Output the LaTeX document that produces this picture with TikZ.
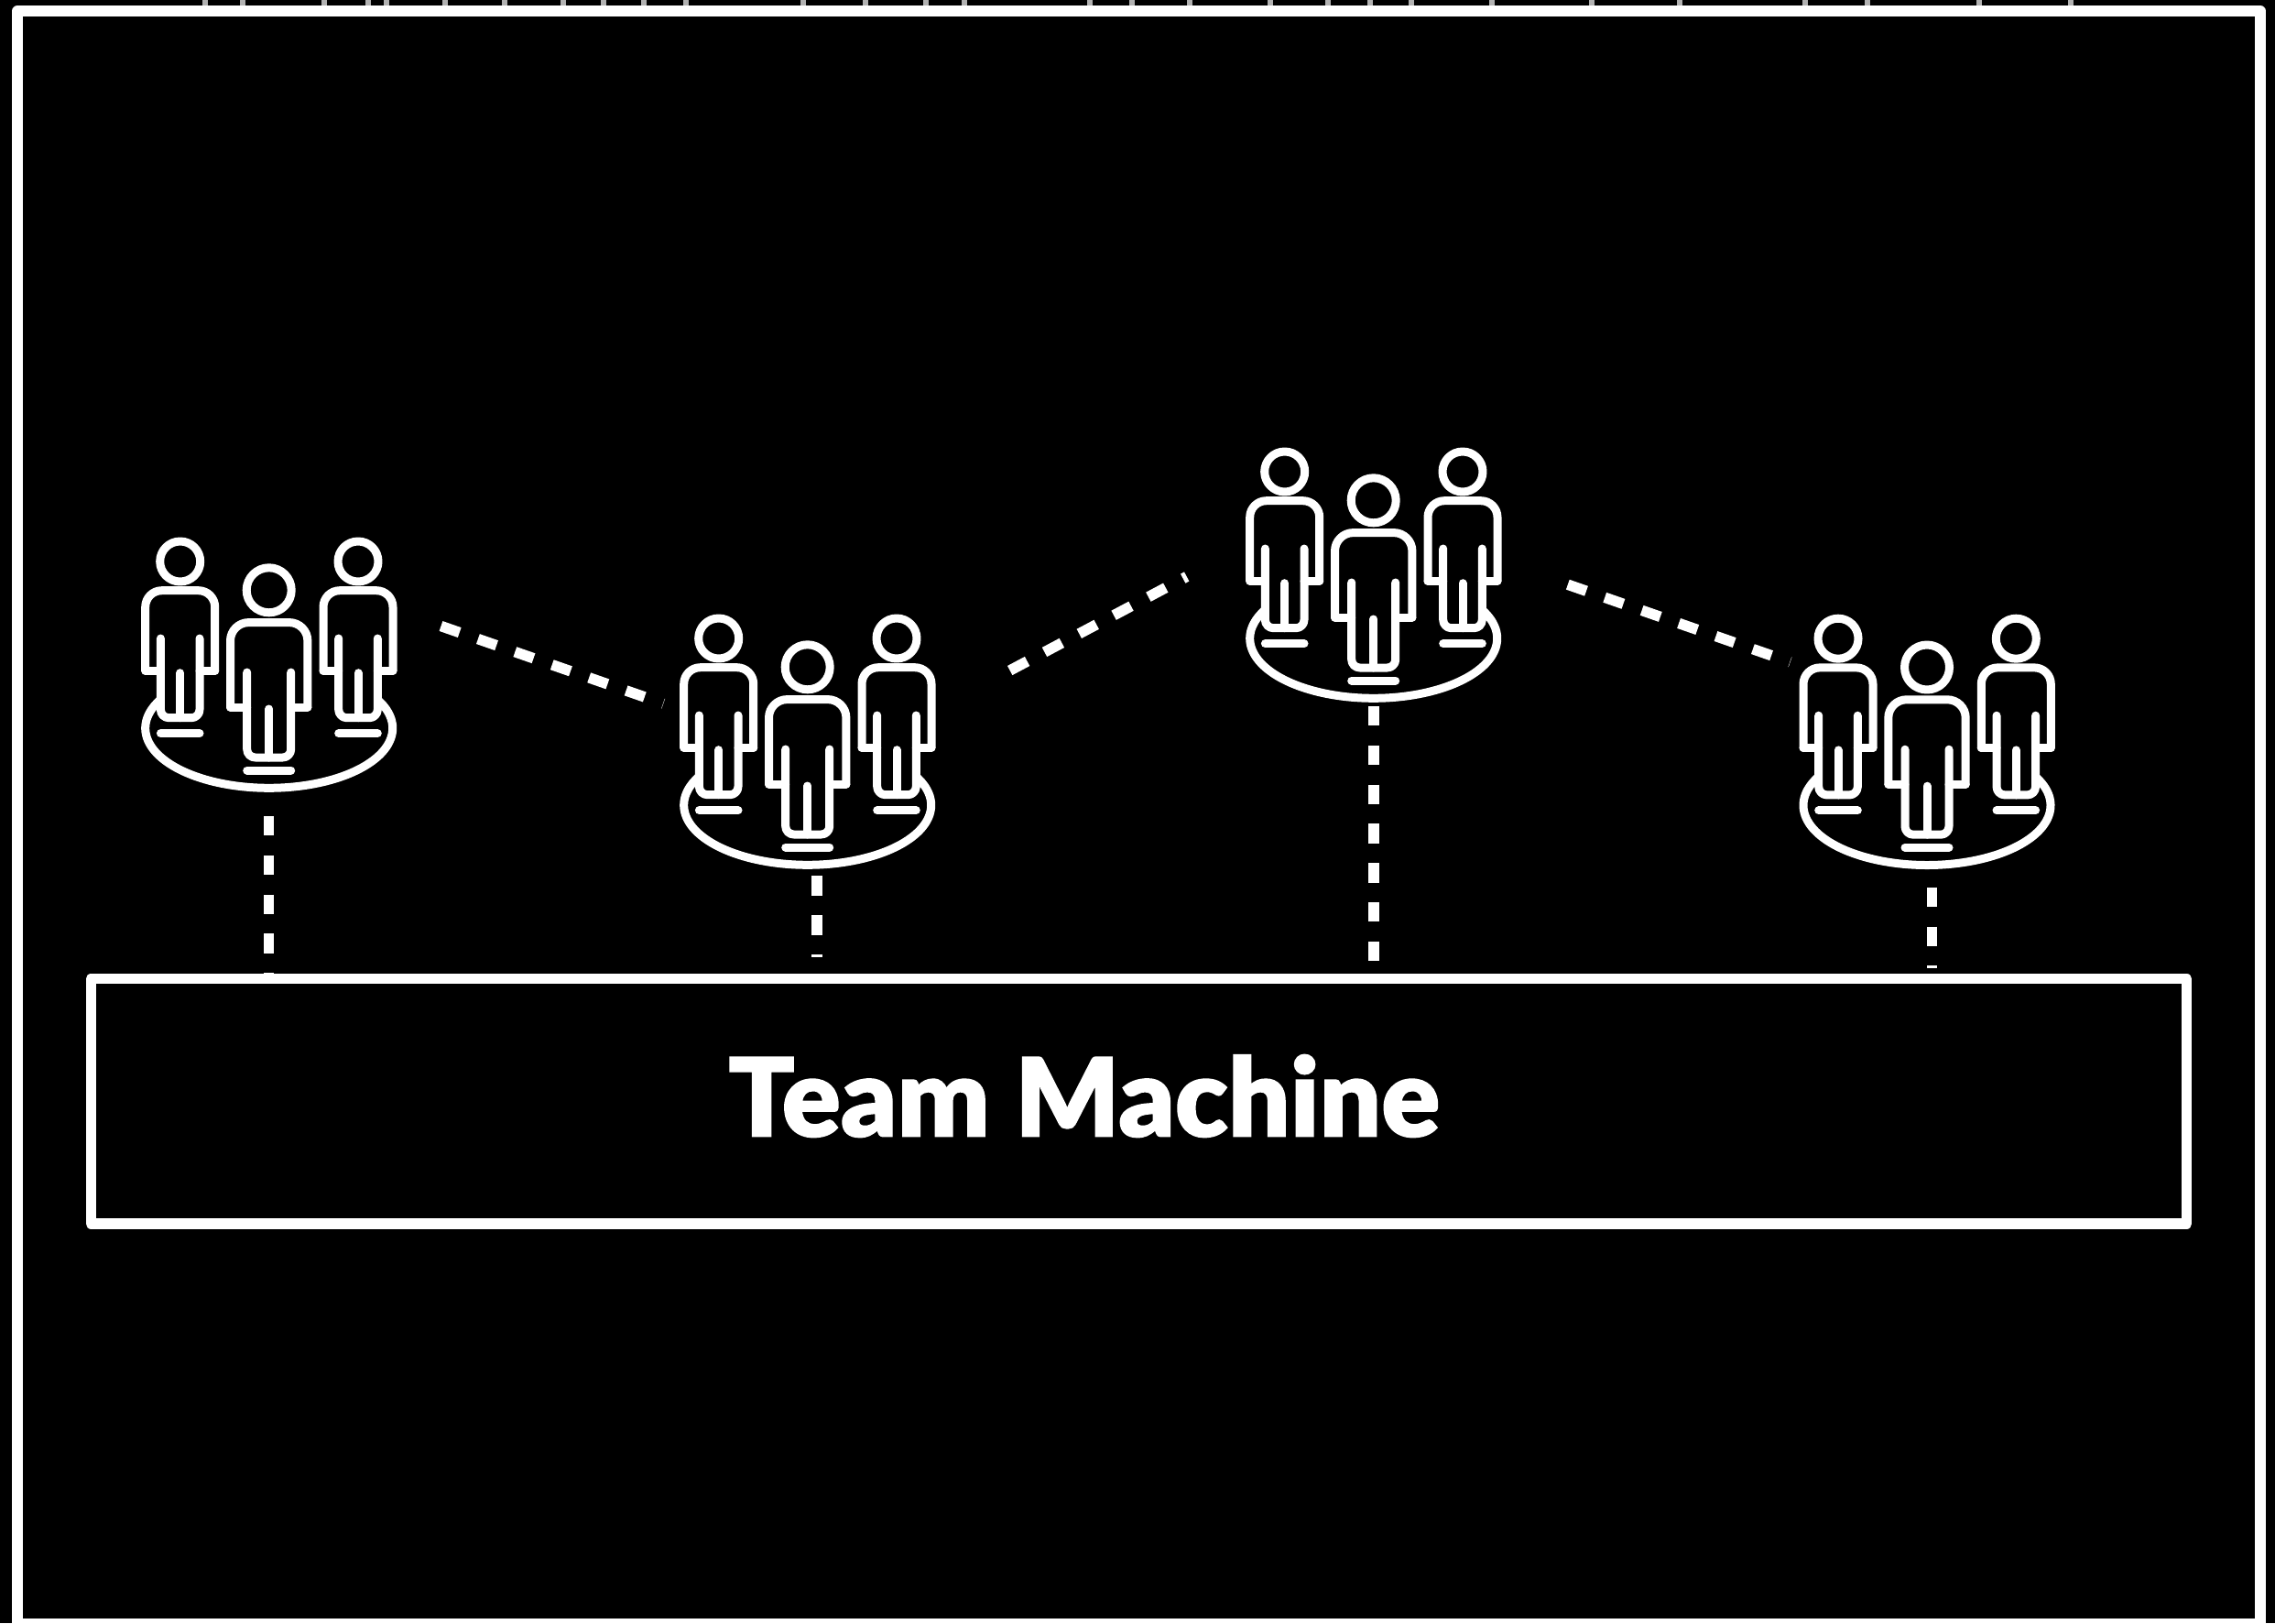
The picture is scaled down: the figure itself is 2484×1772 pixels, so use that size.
\documentclass[tikz,border=0pt]{standalone}
\usepackage{fontspec}
\newfontfamily\titlefont{Lato Black}[FakeBold=1.2]
\tikzset{
  ink/.style={draw=white,line width=9pt,line cap=round,line join=round},
  dashline/.style={draw=white,line width=11.5pt,dash pattern=on 21.4pt off 21.4pt},
  framebox/.style={draw=white,line width=11.5pt,line join=round}
}
% figure drawn from parameters set by the two wrappers below
\newcommand{\figbody}{%
  \draw[ink] (0,0) circle[radius=\pR];
  \draw[ink,rounded corners=\pC pt] (-\pW,\pA) -- (-\pW,\pS) -- (\pW,\pS) -- (\pW,\pA);
  \draw[ink] (-\pW,\pA) -- (-\pL,\pA);
  \draw[ink] (\pW,\pA) -- (\pL,\pA);
  \draw[ink,rounded corners=9pt] (-\pL,\pT) -- (-\pL,\pB) -- (\pL,\pB) -- (\pL,\pT);
  \draw[ink] (0,\pM) -- (0,\pB);
  \draw[ink] (-\pL,\pF) -- (\pL,\pF);
}
\newcommand{\sidefig}[1]{\begin{scope}[shift={(#1)}]
  \def\pR{22}\def\pW{38}\def\pS{31.7}\def\pC{18}\def\pA{119.3}\def\pL{21.3}
  \def\pT{84}\def\pB{170.7}\def\pM{121.7}\def\pF{187.7}\figbody\end{scope}}
\newcommand{\midfig}{\begin{scope}
  \def\pR{24.5}\def\pW{42.2}\def\pS{35.3}\def\pC{20}\def\pA{127.7}\def\pL{24}
  \def\pT{89.7}\def\pB{182.7}\def\pM{129.7}\def\pF{196.7}\figbody\end{scope}}
\newcommand{\teamfig}[1]{\begin{scope}[shift={(#1)}]
  \sidefig{-97,-31.3}\sidefig{97.3,-31.3}\midfig
  \draw[ink,line cap=butt] plot[domain=208.7:-28.7,samples=120] ({135*cos(\x)},{150.7+65.3*sin(\x)});
\end{scope}}
\begin{document}
\begin{tikzpicture}[x=1pt,y=-1pt]
\useasboundingbox (0,0) rectangle (2484,1772);
\clip (0,0) rectangle (2484,1772);
\fill[black] (0,0) rectangle (2484,1772);
% clipped marks at the very top edge
\foreach \mx in {224,265,354,402,422,486,551,615,659,703,749,877,945,1011,1053,1190,1236,1299,1387,1450,1496,1541,1629,1738,1834,1971,2039,2161,2261}
  \fill[white!70!black] (\mx-3,0) rectangle (\mx+3,6);
% outer frame
\draw[framebox] (19,12) rectangle (2468,1772.5);
% groups
\coordinate (teamA) at (293.7,644.3);
\coordinate (teamB) at (881.7,728.3);
\coordinate (teamC) at (1499.7,546.3);
\coordinate (teamD) at (2104,728.5);
\teamfig{293.7,644.3}
\teamfig{881.7,728.3}
\teamfig{1499.7,546.3}
\teamfig{2104,728.5}
% team machine box
\node[framebox,rectangle,minimum width=2288.2pt,minimum height=267.2pt,inner sep=0pt] (machine) at (1243.4,1202.3) {};
\node[anchor=base,white,inner sep=0pt,font=\titlefont\fontsize{119}{119}\selectfont] (title) at (1183.8,1240.7) {Team Machine};
% connectors
\coordinate (a0) at (481.5,683.5);  \coordinate (a1) at (724.3,768.1);
\coordinate (b0) at (1102.7,732);   \coordinate (b1) at (1295.7,629.5);
\coordinate (c0) at (1711.8,638.2); \coordinate (c1) at (1954.6,722.8);
\coordinate (d0) at (293.7,891);    \coordinate (d1) at (293.7,1065);
\coordinate (e0) at (892,956.3);    \coordinate (e1) at (892,1045.3);
\coordinate (f0) at (1500,771);     \coordinate (f1) at (1500,1050);
\coordinate (g0) at (2109.7,968.7); \coordinate (g1) at (2109.7,1057.3);
\draw[dashline] (a0) -- (a1);
\draw[dashline] (b0) -- (b1);
\draw[dashline] (c0) -- (c1);
\draw[dashline] (d0) -- (d1);
\draw[dashline] (e0) -- (e1);
\draw[dashline] (f0) -- (f1);
\draw[dashline] (g0) -- (g1);
\end{tikzpicture}
\end{document}
